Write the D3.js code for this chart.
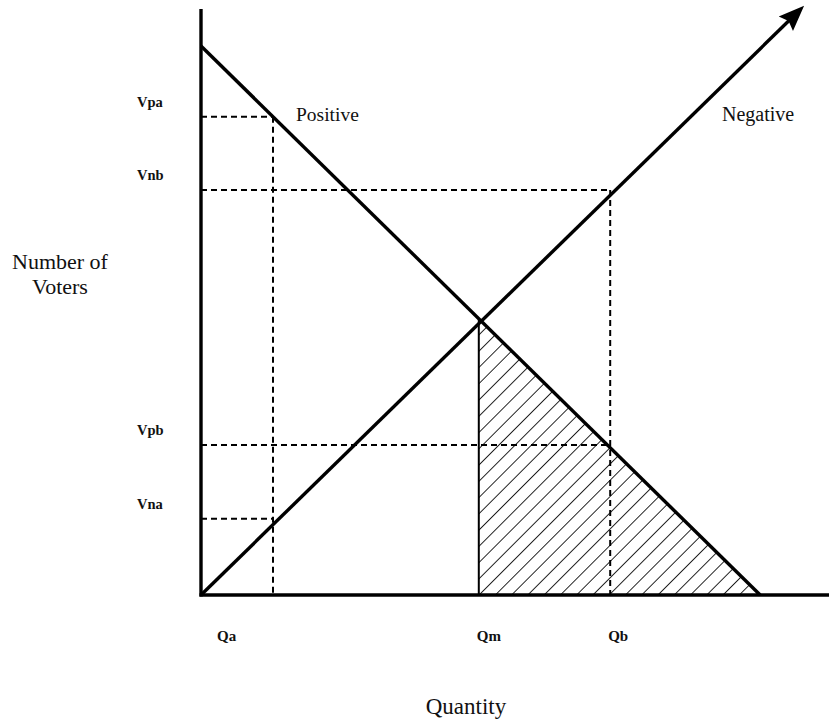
<!DOCTYPE html>
<html>
<head>
<meta charset="utf-8">
<script src="https://cdn.jsdelivr.net/npm/d3@7"></script>
<style>
  body { margin: 0; background: #fff; }
  svg { display: block; }
  text { font-family: "Liberation Serif", "DejaVu Serif", serif; fill: #111; }
</style>
</head>
<body>
<div id="chart"></div>
<script>
// quantities and voter levels (arbitrary units, 0..100)
var qLabels = ['Qa', 'Qm', 'Qb']
var qValues = [12, 46.3, 68.2]
var vLabels = ['Vpa', 'Vnb', 'Vpb', 'Vna']
var vValues = [79.7, 67.5, 25, 12.7]
// which Q each V level reaches across to
var vReach = [12, 68.2, 68.2, 12]

var positiveLine = [[0, 91.5], [93.2, 0]]
var negativeLine = [[0, 0], [99.3, 97]]
var crossPoint = [46.3, 46]
var curveNames = ['Positive', 'Negative']

var drow = () => {
    var width = 829, height = 721

    var xScale = d3.scaleLinear().domain([0, 100]).range([201, 801])
    var yScale = d3.scaleLinear().domain([0, 100]).range([595, -5])

    var svg = d3.select('#chart').append('svg')
        .attr('width', width)
        .attr('height', height)

    var defs = svg.append('defs')
    defs.append('marker')
        .attr('id', 'arrow')
        .attr('viewBox', '0 0 10 10')
        .attr('refX', 6).attr('refY', 5)
        .attr('markerWidth', 7.5).attr('markerHeight', 7.5)
        .attr('markerUnits', 'strokeWidth')
        .attr('orient', 'auto')
        .append('path')
        .attr('d', 'M0,1 L10,5 L0,9 L1.5,5 Z')
        .style('fill', '#000')

    var hatch = defs.append('pattern')
        .attr('id', 'hatch')
        .attr('patternUnits', 'userSpaceOnUse')
        .attr('width', 11.5).attr('height', 11.5)
        .attr('patternTransform', 'rotate(45)')
    hatch.append('line')
        .attr('x1', 0).attr('y1', 0).attr('x2', 0).attr('y2', 11.5)
        .style('stroke', '#000').style('stroke-width', 1.7)

    var line = d3.line().x(d => xScale(d[0])).y(d => yScale(d[1]))

    /* hatched area under positive curve right of Qm */
    var area = [[crossPoint[0], 0], crossPoint, positiveLine[1]]
    svg.append('path')
        .attr('d', line(area) + 'Z')
        .style('fill', 'url(#hatch)')
        .style('stroke', 'none')
    svg.append('line')
        .attr('x1', xScale(crossPoint[0])).attr('y1', yScale(0))
        .attr('x2', xScale(crossPoint[0])).attr('y2', yScale(crossPoint[1]))
        .style('stroke', '#000').style('stroke-width', 2)

    /* dashed guides */
    var dashes = svg.append('g').attr('class', 'dashes')
        .style('stroke', '#000').style('stroke-width', 2)
        .style('stroke-dasharray', '6,4')
    dashes.selectAll('.h')
        .data(vValues).enter()
        .append('line')
        .attr('x1', xScale(0))
        .attr('x2', (d, i) => xScale(vReach[i]))
        .attr('y1', d => yScale(d))
        .attr('y2', d => yScale(d))
    // vertical drops: Qa from Vpa, Qb from Vnb
    var drops = [[qValues[0], vValues[0]], [qValues[2], vValues[1]]]
    dashes.selectAll('.v')
        .data(drops).enter()
        .append('line')
        .attr('x1', d => xScale(d[0]))
        .attr('x2', d => xScale(d[0]))
        .attr('y1', d => yScale(d[1]))
        .attr('y2', yScale(0))

    /* curves */
    svg.append('path')
        .attr('d', line(positiveLine))
        .style('fill', 'none').style('stroke', '#000').style('stroke-width', 3.4)
    svg.append('path')
        .attr('d', line(negativeLine))
        .style('fill', 'none').style('stroke', '#000').style('stroke-width', 3.4)
        .attr('marker-end', 'url(#arrow)')

    /* axes */
    svg.append('line')
        .attr('x1', xScale(0)).attr('y1', yScale(0) + 1.5)
        .attr('x2', xScale(0)).attr('y2', 9)
        .style('stroke', '#000').style('stroke-width', 3.4)
    svg.append('line')
        .attr('x1', xScale(0) - 1.5).attr('y1', yScale(0))
        .attr('x2', width).attr('y2', yScale(0))
        .style('stroke', '#000').style('stroke-width', 3.4)

    /* labels */
    svg.selectAll('.vlab')
        .data(vLabels).enter()
        .append('text')
        .attr('x', 137)
        .attr('y', (d, i) => yScale(vValues[i]) - 10)
        .style('font-size', '14.5px').style('font-weight', 'bold')
        .text(d => d)

    svg.selectAll('.qlab')
        .data(qLabels).enter()
        .append('text')
        .attr('x', (d, i) => xScale(qValues[i]) - (i == 0 ? 56 : 2))
        .attr('y', 641)
        .style('font-size', '15px').style('font-weight', 'bold')
        .text(d => d)

    svg.append('text')
        .attr('x', 296).attr('y', 121)
        .style('font-size', '19.5px')
        .text(curveNames[0])
    svg.append('text')
        .attr('x', 722).attr('y', 121)
        .style('font-size', '20px')
        .text(curveNames[1])

    svg.append('text')
        .attr('x', 466).attr('y', 714)
        .attr('text-anchor', 'middle')
        .style('font-size', '23px')
        .text('Quantity')
    svg.append('text')
        .attr('x', 60).attr('y', 269)
        .attr('text-anchor', 'middle')
        .style('font-size', '22px')
        .text('Number of')
    svg.append('text')
        .attr('x', 60).attr('y', 294)
        .attr('text-anchor', 'middle')
        .style('font-size', '22px')
        .text('Voters')
}

drow()
</script>
</body>
</html>
